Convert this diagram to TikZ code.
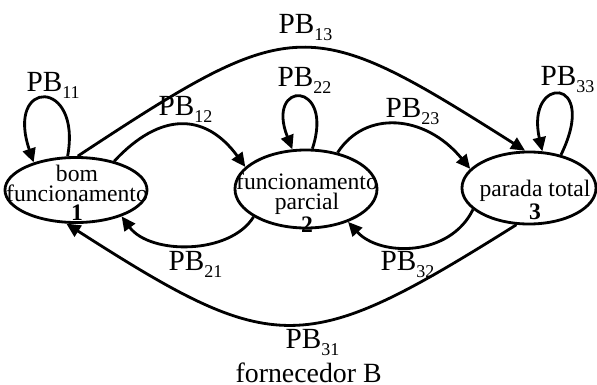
\documentclass[tikz,border=0pt]{standalone}
\usepackage{fontspec}
\setmainfont{Liberation Serif}
\usetikzlibrary{arrows.meta,shapes.geometric}
\newcommand{\pbl}[1]{PB\raisebox{-2.8pt}{\fontsize{6.4}{7}\selectfont #1}}

\begin{document}
\begin{tikzpicture}[x=0.0125cm,y=-0.0125cm,
    estado/.style={draw,ellipse,line width=1pt,inner sep=0pt},
    rotulo/.style={font=\fontsize{8.4}{7}\selectfont,align=center,inner sep=0pt},
    prob/.style={font=\fontsize{10.4}{12}\selectfont,anchor=base west,inner sep=0pt},
    trans/.style={line width=1pt,->,>={Triangle[length=5pt,width=4.6pt]}}]
  \useasboundingbox (0,0) rectangle (597,385);
  % estados
  \node[estado,minimum width=1.775cm,minimum height=0.8125cm] (bom) at (76,190) {};
  \node[estado,minimum width=1.775cm,minimum height=0.975cm] (parcial) at (306,189) {};
  \node[estado,minimum width=1.675cm,minimum height=0.9cm] (parada) at (529,188) {};
  \node[rotulo] (tbom) at (77,193) {bom\\funcionamento\\\textbf{1}};
  \node[rotulo] (tparcial) at (307,203) {funcionamento\\parcial\\\textbf{2}};
  \node[rotulo] (tparada) at (535,200) {parada total\\\textbf{3}};
  % transicoes
  \draw[trans] (bom.104) .. controls (82,78) and (5,78) .. (bom.147);
  \draw[trans] (parcial.81) .. controls (335,80) and (265,80) .. (parcial.109);
  \draw[trans] (parada.46) .. controls (600,75) and (525,75) .. (parada.70);
  \draw[trans] (bom.37) .. controls (160,112) and (205,112) .. (parcial.160);
  \draw[trans] (parcial.49) .. controls (365,110) and (425,114) .. (parada.162);
  \draw[trans] (bom.87) .. controls (295,13) and (308,13) .. (parada.96);
  \draw[trans] (parcial.208) .. controls (230,255) and (150,255) .. (bom.330);
  \draw[trans] (parada.201) .. controls (450,257) and (380,257) .. (parcial.322);
  \draw[trans] (parada.251) .. controls (304,358) and (276,358) .. (bom.254);
  % rotulos
  \node[prob] (p11) at (26,91) {\pbl{11}};
  \node[prob] (p12) at (158,115) {\pbl{12}};
  \node[prob] (p13) at (278,33) {\pbl{13}};
  \node[prob] (p22) at (277,86) {\pbl{22}};
  \node[prob] (p23) at (385,117) {\pbl{23}};
  \node[prob] (p33) at (540,85) {\pbl{33}};
  \node[prob] (p21) at (168,270) {\pbl{21}};
  \node[prob] (p32) at (380,270) {\pbl{32}};
  \node[prob] (p31) at (285,348) {\pbl{31}};
  \node[prob,font=\fontsize{9.9}{12}\selectfont] (forn) at (235,382) {fornecedor B};
\end{tikzpicture}
\end{document}
